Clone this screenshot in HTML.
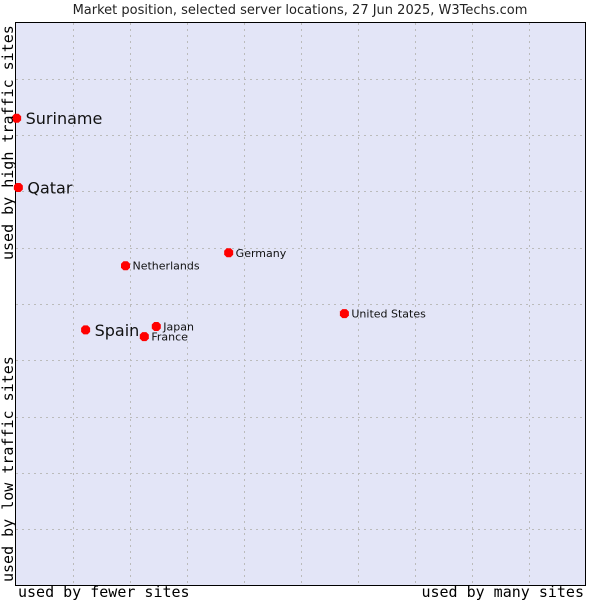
<!DOCTYPE html>
<html><head><meta charset="utf-8"><style>
body{margin:0;background:#fff;width:600px;height:600px;overflow:hidden}
svg{font-family:"DejaVu Sans","Liberation Sans",sans-serif}
</style></head><body>
<svg id="c" width="600" height="600">
<text x="300" y="14" text-anchor="middle" font-size="13" fill="#222">Market position, selected server locations, 27 Jun 2025, W3Techs.com</text>
<rect x="15.5" y="22.5" width="570" height="563" fill="#e3e5f7" stroke="#000"/>
<g id="grid"></g>
<g id="pts"></g>
<text x="18" y="597" font-family="'DejaVu Sans Mono','Liberation Mono',monospace" font-size="15">used by fewer sites</text>
<text x="584" y="597" text-anchor="end" font-family="'DejaVu Sans Mono','Liberation Mono',monospace" font-size="15">used by many sites</text>
<text transform="translate(13,582) rotate(-90)" font-family="'DejaVu Sans Mono','Liberation Mono',monospace" font-size="15">used by low traffic sites</text>
<text transform="translate(13,260) rotate(-90)" font-family="'DejaVu Sans Mono','Liberation Mono',monospace" font-size="15">used by high traffic sites</text>
</svg>
<script>
const names=["Suriname","Qatar","Netherlands","Germany","United States","Spain","Japan","France"];
const xVals=[0.2,0.5,19.3,37.4,57.7,12.3,24.7,22.6];
const yVals=[83.0,70.7,56.8,59.1,48.3,45.4,46.0,44.2];
const bigLabel=[true,true,false,false,false,true,false,false];
const ns="http://www.w3.org/2000/svg";
const X0=15.5,W=570,Y0=585.5,H=563;
const sx=v=>X0+v/100*W, sy=v=>Y0-v/100*H;
const grid=document.getElementById('grid');
for(let i=1;i<10;i++){
 const l=document.createElementNS(ns,'line');
 
 
 const x=Math.round(sx(i*10))+0.5;
 l.setAttribute('x1',x);l.setAttribute('x2',x);l.setAttribute('y1',23);l.setAttribute('y2',585);
 l.setAttribute('stroke','#bbb');l.setAttribute('stroke-dasharray','2,4');grid.appendChild(l);
 const h=document.createElementNS(ns,'line');
 
 
 const y=Math.round(sy(i*10))+0.5;
 h.setAttribute('x1',16);h.setAttribute('x2',585);h.setAttribute('y1',y);h.setAttribute('y2',y);
 h.setAttribute('stroke','#bbb');h.setAttribute('stroke-dasharray','2,4');grid.appendChild(h);
}
const pts=document.getElementById('pts');
names.forEach((n,i)=>{
 const x=sx(xVals[i]),y=sy(yVals[i]);
 const p=document.createElementNS(ns,'polygon');
 
 
 p.setAttribute('points',`${x-2},${y-4.5} ${x+2},${y-4.5} ${x+4.5},${y-2} ${x+4.5},${y+2} ${x+2},${y+4.5} ${x-2},${y+4.5} ${x-4.5},${y+2} ${x-4.5},${y-2}`);
 p.setAttribute('fill','#f00');pts.appendChild(p);
 const t=document.createElementNS(ns,'text');
 
 
 const big=bigLabel[i];
 t.setAttribute('x',x+(big?9:7));t.setAttribute('y',y+(big?6:4));
 t.setAttribute('font-size',big?16:11);t.setAttribute('fill','#111');
 t.textContent=n;pts.appendChild(t);
});
</script>
</body></html>
